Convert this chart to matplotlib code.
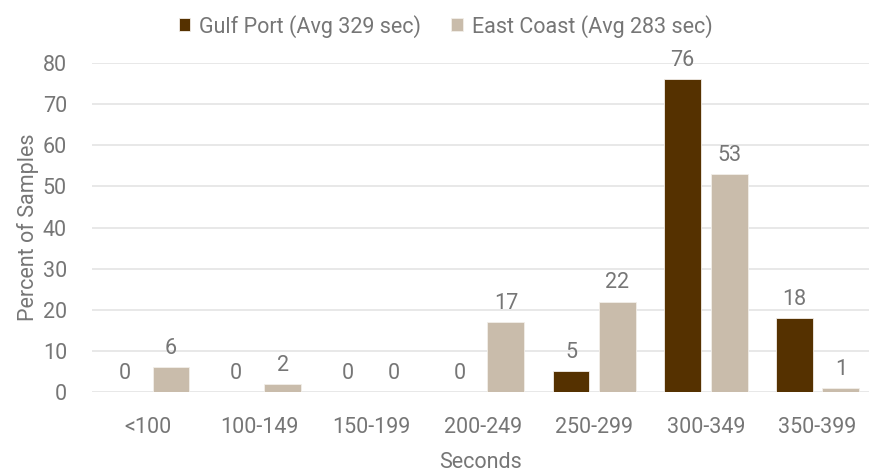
import matplotlib.pyplot as plt
import numpy as np

plt.rcParams['font.family'] = ['Roboto', 'DejaVu Sans']

categories = ["<100", "100-149", "150-199", "200-249", "250-299", "300-349", "350-399"]
gulf_port = [0, 0, 0, 0, 5, 76, 18]
east_coast = [6, 2, 0, 17, 22, 53, 1]
series_names = ["Gulf Port (Avg 329 sec)", "East Coast (Avg 283 sec)"]
colors = ["#553100", "#c9bcab"]
text_color = "#767676"
FS = 15.5


def create_plot():
    fig = plt.figure(figsize=(8.7, 4.72), dpi=100)
    ax = fig.add_axes([0.1057, 0.1695, 0.8943, 0.697])

    x = np.arange(len(categories))
    w = 0.33
    off = 0.208
    for i, (vals, name) in enumerate(zip([gulf_port, east_coast], series_names)):
        pos = x + (off if i else -off)
        bars = ax.bar(pos, vals, width=w, color=colors[i], label=name, zorder=3,
                      edgecolor="#f2eee9", linewidth=0.6)
        for b, v in zip(bars, vals):
            ax.text(b.get_x() + b.get_width() / 2, v + 2.0, str(v),
                    ha="center", va="bottom", fontsize=FS, color=text_color,
                    clip_on=False)

    ax.set_xlim(-0.5, len(categories) - 0.53)
    ax.set_ylim(0, 80)
    ax.set_yticks(range(0, 81, 10))
    ax.set_xticks(x)
    ax.set_xticklabels(categories)
    ax.tick_params(axis="both", length=0, labelsize=FS, labelcolor=text_color)
    ax.tick_params(axis="x", pad=18)
    ax.tick_params(axis="y", pad=18)
    ax.grid(axis="y", color="#e4e4e4", linewidth=1.2, zorder=0)
    for s in ax.spines.values():
        s.set_visible(False)

    ax.set_xlabel("Seconds", fontsize=FS, color=text_color, labelpad=10)
    ax.set_ylabel("Percent of Samples", fontsize=FS, color=text_color, labelpad=3)

    fig.legend(loc="upper center", bbox_to_anchor=(0.512, 1.01), ncol=2,
               frameon=False, fontsize=FS, labelcolor=text_color,
               handlelength=0.55, handleheight=0.55, handletextpad=0.4,
               columnspacing=1.4)

    fig.savefig("out.png", dpi=100)


def main():
    create_plot()


if __name__ == "__main__":
    main()
